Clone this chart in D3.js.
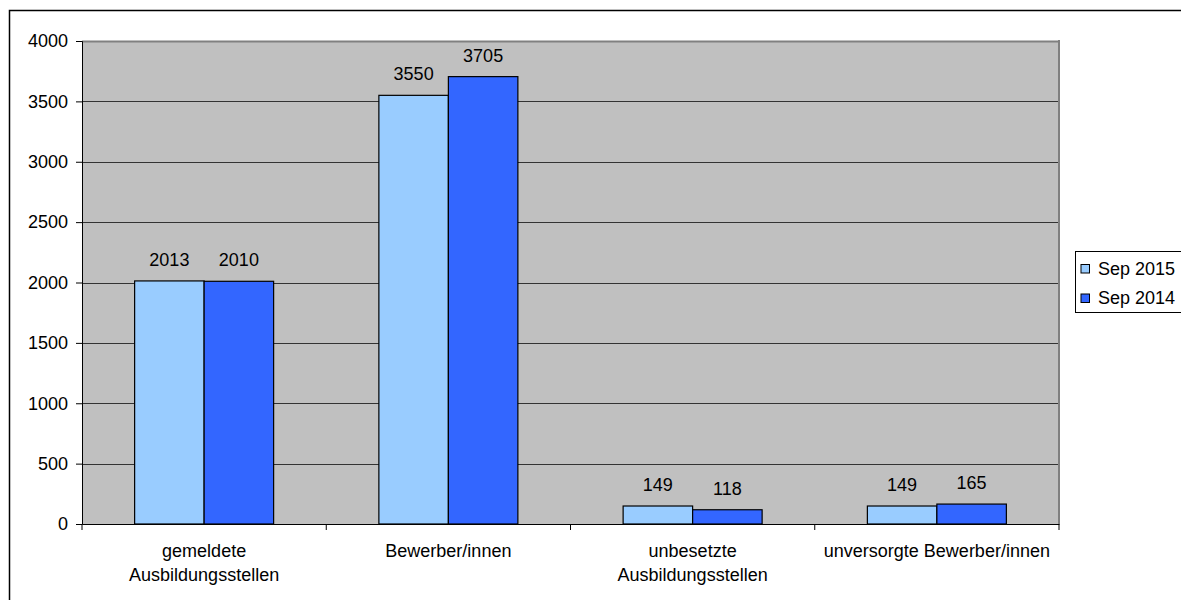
<!DOCTYPE html>
<html>
<head>
<meta charset="utf-8">
<script src="https://cdn.jsdelivr.net/npm/d3@7"></script>
<style>
  html, body { margin: 0; padding: 0; background: #fff; }
  svg { display: block; font-family: "Liberation Sans", Arial, sans-serif; }
</style>
</head>
<body>
<svg id="chart" width="1181" height="600"></svg>
<script>
// Ausbildungsmarkt: Vergleich Sep 2015 / Sep 2014
const categories = [
  ["gemeldete", "Ausbildungsstellen"],
  ["Bewerber/innen"],
  ["unbesetzte", "Ausbildungsstellen"],
  ["unversorgte Bewerber/innen"]
];
const seriesNames = ["Sep 2015", "Sep 2014"];
const sep2015 = [2013, 3550, 149, 149];
const sep2014 = [2010, 3705, 118, 165];
const yTicks = [0, 500, 1000, 1500, 2000, 2500, 3000, 3500, 4000];
const colors = ["#99CCFF", "#3366FF"];

const FONT = "Liberation Sans, Arial, sans-serif";
const FS = 18;

const svg = d3.select("#chart");
const plot = { left: 82, top: 41, right: 1059, bottom: 524 };

// outer chart frame (continues past the right and bottom edges)
svg.append("rect")
  .attr("x", 9.5).attr("y", 10.5)
  .attr("width", 1200).attr("height", 620)
  .attr("fill", "none").attr("stroke", "#000").attr("stroke-width", 1.5);

const x0 = d3.scaleBand()
  .domain(d3.range(categories.length))
  .range([plot.left, plot.right])
  .paddingInner(0).paddingOuter(0);

const groupWidth = 139;
const x1 = d3.scaleBand()
  .domain(d3.range(seriesNames.length))
  .range([0, groupWidth]);

const y = d3.scaleLinear().domain([0, 4000]).range([plot.bottom, plot.top]);

// plot background
svg.append("rect")
  .attr("x", plot.left).attr("y", plot.top)
  .attr("width", plot.right - plot.left).attr("height", plot.bottom - plot.top)
  .attr("fill", "#C0C0C0");

// horizontal gridlines
svg.append("g").selectAll("line")
  .data(yTicks.filter(t => t > 0))
  .join("line")
  .attr("x1", plot.left).attr("x2", plot.right)
  .attr("y1", d => Math.round(y(d)) + 0.5).attr("y2", d => Math.round(y(d)) + 0.5)
  .attr("stroke", d => d === 4000 ? "#808080" : "#333")
  .attr("stroke-width", d => d === 4000 ? 2 : 1);

// right border of plot area
svg.append("line")
  .attr("x1", plot.right).attr("x2", plot.right)
  .attr("y1", plot.top - 1).attr("y2", plot.bottom)
  .attr("stroke", "#808080").attr("stroke-width", 2);

// bars
const data = categories.map((c, i) => [sep2015[i], sep2014[i]]);
const groups = svg.append("g").selectAll("g")
  .data(data)
  .join("g")
  .attr("transform", (d, i) => `translate(${x0(i) + (x0.bandwidth() - groupWidth) / 2},0)`);

groups.selectAll("rect")
  .data(d => d)
  .join("rect")
  .attr("x", (d, j) => x1(j))
  .attr("y", d => y(d))
  .attr("width", x1.bandwidth())
  .attr("height", d => y(0) - y(d))
  .attr("fill", (d, j) => colors[j])
  .attr("stroke", "#000").attr("stroke-width", 1.2);

groups.selectAll("text")
  .data(d => d)
  .join("text")
  .attr("x", (d, j) => x1(j) + x1.bandwidth() / 2)
  .attr("y", d => y(d) - 15)
  .attr("text-anchor", "middle")
  .attr("font-family", FONT)
  .attr("font-size", FS)
  .attr("fill", "#000")
  .text(d => d);

// y axis
const yAxis = d3.axisLeft(y).tickValues(yTicks).tickFormat(d3.format("d"))
  .tickSize(6).tickPadding(8);
const gy = svg.append("g").attr("transform", `translate(${plot.left},0)`).call(yAxis);
gy.attr("font-family", FONT).attr("font-size", FS);
gy.select(".domain").attr("stroke", "#000");
gy.selectAll(".tick line").attr("stroke", "#000");
gy.selectAll("text").attr("fill", "#000");

// x axis
const xAxis = d3.axisBottom(x0).tickValues([]).tickSizeOuter(0);
const gx = svg.append("g").attr("transform", `translate(0,${plot.bottom})`).call(xAxis);
gx.select(".domain").attr("stroke", "#000");
const boundaries = d3.range(categories.length + 1).map(i => plot.left + i * x0.step());
gx.selectAll("line.bound")
  .data(boundaries)
  .join("line")
  .attr("class", "bound")
  .attr("x1", d => d).attr("x2", d => d)
  .attr("y1", 0).attr("y2", 6)
  .attr("stroke", "#000");

// category labels
const catLabels = svg.append("g").selectAll("text")
  .data(categories)
  .join("text")
  .attr("x", (d, i) => x0(i) + x0.bandwidth() / 2)
  .attr("y", 557)
  .attr("text-anchor", "middle")
  .attr("font-family", FONT)
  .attr("font-size", FS)
  .attr("fill", "#000");
catLabels.selectAll("tspan")
  .data(d => d)
  .join("tspan")
  .attr("x", function () { return d3.select(this.parentNode).attr("x"); })
  .attr("dy", (d, k) => k === 0 ? 0 : 24)
  .text(d => d);

// legend
const legend = svg.append("g").attr("transform", "translate(1075,251)");
legend.append("rect")
  .attr("x", 0.5).attr("y", 0.5).attr("width", 115).attr("height", 61)
  .attr("fill", "#fff").attr("stroke", "#000");
const items = legend.selectAll("g.item")
  .data(seriesNames)
  .join("g")
  .attr("class", "item")
  .attr("transform", (d, i) => `translate(6,${13.5 + i * 29.5})`);
items.append("rect")
  .attr("width", 8.5).attr("height", 8.5)
  .attr("fill", (d, i) => colors[i])
  .attr("stroke", "#000").attr("stroke-width", 1);
items.append("text")
  .attr("x", 17).attr("y", 10)
  .attr("font-family", FONT)
  .attr("font-size", FS).attr("fill", "#000")
  .text(d => d);
</script>
</body>
</html>
